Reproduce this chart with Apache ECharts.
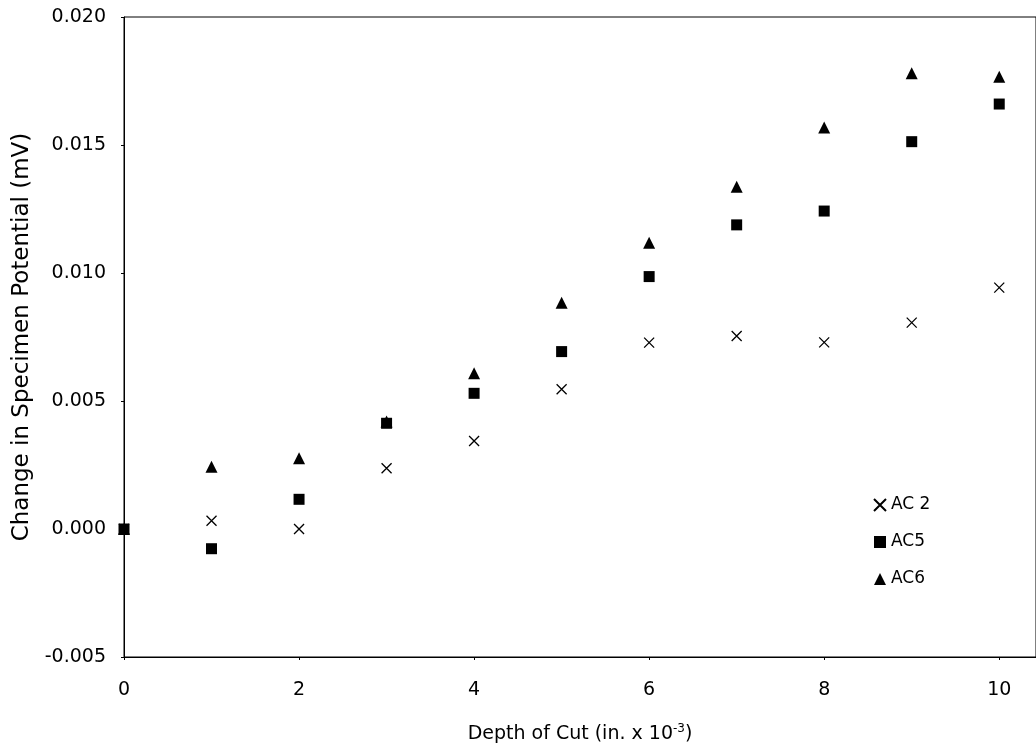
<!DOCTYPE html>
<html>
<head>
<meta charset="utf-8">
<script src="https://cdn.jsdelivr.net/npm/echarts@6/dist/echarts.min.js"></script>
<style>
  html, body { margin: 0; padding: 0; background: #fff; }
  #chart { width: 1036px; height: 753px; }
</style>
</head>
<body>
<div id="chart"></div>
<script>
const depth = [0, 1, 2, 3, 4, 5, 6, 7, 8, 9, 10];
const ac2 = [0, 0.00032, 0.0000, 0.00237, 0.00344, 0.00546, 0.00728, 0.00754, 0.00729, 0.00806, 0.00943];
const ac5 = [0, -0.00077, 0.00116, 0.00413, 0.00530, 0.00693, 0.00986, 0.01188, 0.01242, 0.01513, 0.01660];
const ac6 = [0, 0.00243, 0.00276, 0.00420, 0.00608, 0.00884, 0.01118, 0.01337, 0.01568, 0.01780, 0.01767];
const seriesNames = ['AC 2', 'AC5', 'AC6'];
const xTitle = 'Depth of Cut (in. x 10';
const yTitle = 'Change in Specimen Potential (mV)';

const pairs = (ys) => depth.map((d, i) => [d, ys[i]]);
const FONT = 'DejaVu Sans';
const crossPath = 'path://M0,0L10,10M10,0L0,10';

const chart = echarts.init(document.getElementById('chart'), null, { renderer: 'canvas' });
chart.setOption({
  animation: false,
  backgroundColor: '#fff',
  textStyle: { fontFamily: FONT, color: '#000' },
  grid: {
    left: 124, top: 17, right: -2, bottom: 96,
    show: true, borderColor: '#000', borderWidth: 1, backgroundColor: 'transparent'
  },
  legend: {
    orient: 'vertical',
    left: 868, top: 490,
    itemWidth: 12, itemHeight: 12, itemGap: 17,
    textStyle: { fontFamily: FONT, fontSize: 17, color: '#000', lineHeight: 20 },
    data: seriesNames
  },
  xAxis: {
    type: 'value', min: 0, max: 10.42, interval: 2,
    name: xTitle + '{sup|-3}' + ')',
    nameLocation: 'middle', nameGap: 66,
    nameTextStyle: {
      fontFamily: FONT, fontSize: 19, color: '#000',
      rich: { sup: { fontFamily: FONT, fontSize: 12, verticalAlign: 'top', padding: [0, 0, 10, 0], color: '#000' } }
    },
    axisLine: { show: true, onZero: false, lineStyle: { color: '#000', width: 1 } },
    axisTick: { show: true, length: 3, lineStyle: { color: '#000' } },
    splitLine: { show: false },
    axisLabel: {
      fontFamily: FONT, fontSize: 19, color: '#000', margin: 24,
      showMaxLabel: false,
      formatter: (v) => (Math.abs(v - Math.round(v)) < 1e-9 && Math.round(v) % 2 === 0) ? String(Math.round(v)) : ''
    }
  },
  yAxis: {
    type: 'value', min: -0.005, max: 0.02, interval: 0.005,
    name: yTitle, nameLocation: 'middle', nameGap: 90, nameRotate: 90,
    nameTextStyle: { fontFamily: FONT, fontSize: 23, color: '#000' },
    axisLine: { show: true, onZero: false, lineStyle: { color: '#000', width: 1 } },
    axisTick: { show: true, length: 3, lineStyle: { color: '#000' } },
    splitLine: { show: false },
    axisLabel: {
      fontFamily: FONT, fontSize: 19, color: '#000', margin: 18,
      formatter: (v) => v.toFixed(3)
    }
  },
  series: [
    {
      name: seriesNames[0], type: 'scatter', z: 3,
      symbol: crossPath, symbolSize: 10,
      itemStyle: { color: 'transparent', borderColor: '#000', borderWidth: 1.3, opacity: 1 },
      data: pairs(ac2)
    },
    {
      name: seriesNames[1], type: 'scatter', z: 4,
      symbol: 'rect', symbolSize: 11,
      itemStyle: { color: '#000', opacity: 1 },
      data: pairs(ac5)
    },
    {
      name: seriesNames[2], type: 'scatter', z: 2,
      symbol: 'triangle', symbolSize: 12,
      itemStyle: { color: '#000', opacity: 1 },
      data: pairs(ac6)
    }
  ]
});
</script>
</body>
</html>
